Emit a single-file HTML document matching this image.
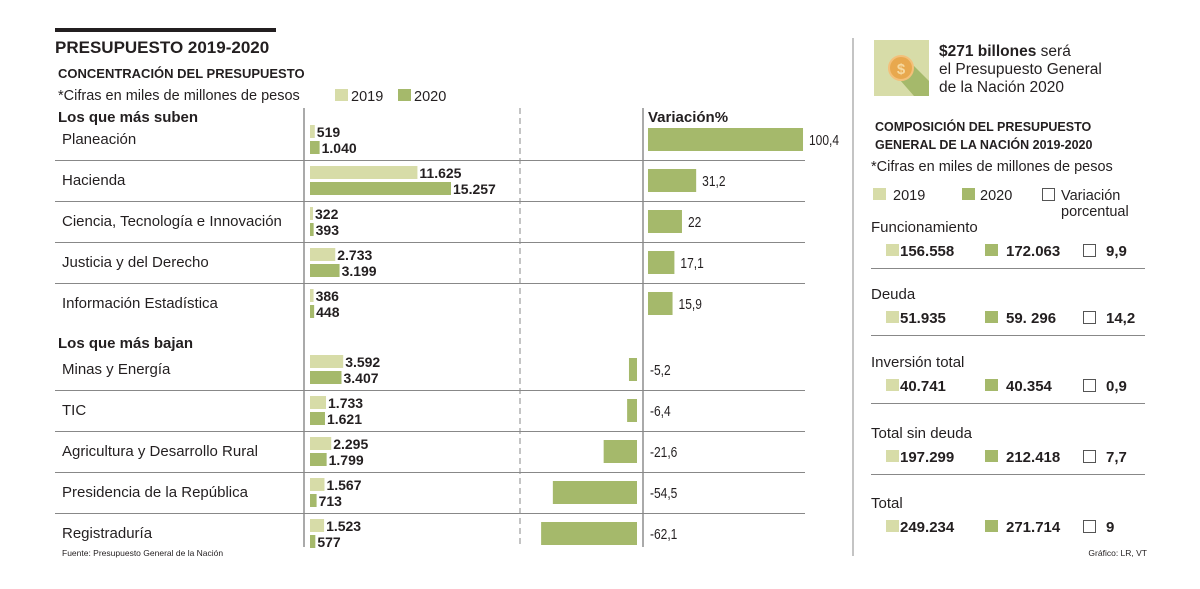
<!DOCTYPE html>
<html><head><meta charset="utf-8"><style>
body{margin:0;background:#fff;}
svg text{font-family:"Liberation Sans",sans-serif;fill:#231f20;}
</style></head><body>
<svg id="c" width="1200" height="584" viewBox="0 0 1200 584" xmlns="http://www.w3.org/2000/svg">
<rect x="55" y="28" width="221" height="4" fill="#231f20"/>
<text x="55" y="53" font-size="17" font-weight="bold">PRESUPUESTO 2019-2020</text>
<text x="58" y="78" font-size="13" font-weight="bold">CONCENTRACIÓN DEL PRESUPUESTO</text>
<text x="58" y="100" font-size="14.5">*Cifras en miles de millones de pesos</text>
<rect x="335" y="89" width="13" height="12" fill="#d7dca8"/>
<text x="351" y="101" font-size="14.5">2019</text>
<rect x="398" y="89" width="13" height="12" fill="#a5b96b"/>
<text x="414" y="101" font-size="14.5">2020</text>
<text x="58" y="122" font-size="15" font-weight="bold">Los que más suben</text>
<text x="58" y="348" font-size="15" font-weight="bold">Los que más bajan</text>
<text x="648" y="122" font-size="15" font-weight="bold">Variación%</text>
<line x1="304" y1="108" x2="304" y2="547" stroke="#555"/>
<line x1="520" y1="108" x2="520" y2="547" stroke="#888" stroke-dasharray="6,4"/>
<line x1="643" y1="108" x2="643" y2="547" stroke="#555"/>
<text x="62" y="556" font-size="8.5">Fuente: Presupuesto General de la Nación</text>
<text x="1147" y="556" font-size="8.5" text-anchor="end">Gráfico: LR, VT</text>
<g id="left"></g>
<line x1="853" y1="38" x2="853" y2="556" stroke="#888"/>
<rect x="874" y="40" width="55" height="56" fill="#d7dca8"/>
<polygon points="900,80 914,66 929,81 929,96 914,96" fill="#a5b96b"/>
<circle cx="901" cy="68" r="12" fill="#e8a84e" stroke="#f3c07a" stroke-width="2"/>
<text x="901" y="74" font-size="15" text-anchor="middle" font-weight="bold" style="fill:#f6d9a0">$</text>
<text x="939" y="56" font-size="15.5"><tspan font-weight="bold">$271 billones</tspan> será</text>
<text x="939" y="74" font-size="15.5">el Presupuesto General</text>
<text x="939" y="92" font-size="15.5">de la Nación 2020</text>
<text x="875" y="131" font-size="12.5" font-weight="bold">COMPOSICIÓN DEL PRESUPUESTO</text>
<text x="875" y="149" font-size="12.5" font-weight="bold">GENERAL DE LA NACIÓN 2019-2020</text>
<text x="871" y="171" font-size="14.5">*Cifras en miles de millones de pesos</text>
<rect x="873" y="188" width="13" height="12" fill="#d7dca8"/>
<text x="893" y="200" font-size="14.5">2019</text>
<rect x="962" y="188" width="13" height="12" fill="#a5b96b"/>
<text x="980" y="200" font-size="14.5">2020</text>
<rect x="1042.5" y="188.5" width="12" height="12" fill="none" stroke="#555"/>
<text x="1061" y="200" font-size="14.5">Variación</text>
<text x="1061" y="216" font-size="14.5">porcentual</text>
<g id="right"></g>
</svg>
<script>
const categories=["Planeación","Hacienda","Ciencia, Tecnología e Innovación","Justicia y del Derecho","Información Estadística","Minas y Energía","TIC","Agricultura y Desarrollo Rural","Presidencia de la República","Registraduría"];
const values2019=[519,11625,322,2733,386,3592,1733,2295,1567,1523];
const values2020=[1040,15257,393,3199,448,3407,1621,1799,713,577];
const labels2019=["519","11.625","322","2.733","386","3.592","1.733","2.295","1.567","1.523"];
const labels2020=["1.040","15.257","393","3.199","448","3.407","1.621","1.799","713","577"];
const variation=[100.4,31.2,22,17.1,15.9,-5.2,-6.4,-21.6,-54.5,-62.1];
const variationLabels=["100,4","31,2","22","17,1","15,9","-5,2","-6,4","-21,6","-54,5","-62,1"];
const compCategories=["Funcionamiento","Deuda","Inversión total","Total sin deuda","Total"];
const comp2019=["156.558","51.935","40.741","197.299","249.234"];
const comp2020=["172.063","59. 296","40.354","212.418","271.714"];
const compVar=["9,9","14,2","0,9","7,7","9"];

const NS="http://www.w3.org/2000/svg";
function mk(p,tag,a,txt){const e=document.createElementNS(NS,tag);for(const k in a)e.setAttribute(k,a[k]);if(txt!=null)e.textContent=txt;p.appendChild(e);return e;}
const xVal=v=>310+v*141/15257;
const varPos=v=>v>=0?648+v*1.544:637+v*1.544;
const rowTop=i=>i<5?120+i*41:350+(i-5)*41;
const L=document.getElementById('left');
categories.forEach((c,i)=>{
  const t=rowTop(i);
  const lbl=mk(L,'text',{x:62,y:t+24,'font-size':15},c);
  
  
  if(i!==0&&i!==5){const ln=mk(L,'line',{x1:55,y1:t-0.5,x2:805,y2:t-0.5,stroke:'#888'});
    
    }
  const w1=Math.max(xVal(values2019[i])-310,3),w2=Math.max(xVal(values2020[i])-310,3);
  const b1=mk(L,'rect',{x:310,y:t+5,width:w1,height:13,fill:'#d7dca8'});
  
  
  const b2=mk(L,'rect',{x:310,y:t+21,width:w2,height:13,fill:'#a5b96b'});
  
  
  const l1=mk(L,'text',{x:310+w1+2,y:t+17,'font-size':14,'font-weight':'bold'},labels2019[i]);
  
  
  const l2=mk(L,'text',{x:310+w2+2,y:t+33,'font-size':14,'font-weight':'bold'},labels2020[i]);
  
  
  const v=variation[i],x0=v>=0?648:637,x1=varPos(v);
  const vb=mk(L,'rect',{x:Math.min(x0,x1),y:t+8,width:Math.abs(x1-x0),height:23,fill:'#a5b96b'});
  
  
  const vx=v>=0?x1+6:650;
  const vl=mk(L,'text',{x:vx,y:t+25,'font-size':15,transform:`translate(${vx},0) scale(0.8,1) translate(${-vx},0)`},variationLabels[i]);
  
  
});
const R=document.getElementById('right');
const gTop=[213,280,348,419,489];
compCategories.forEach((c,i)=>{
  const t=gTop[i];
  const lbl=mk(R,'text',{x:871,y:t+19,'font-size':15},c);
  
  
  const s1=mk(R,'rect',{x:886,y:t+31,width:13,height:12,fill:'#d7dca8'});
  
  
  const v1=mk(R,'text',{x:900,y:t+43,'font-size':15,'font-weight':'bold'},comp2019[i]);
  
  
  const s2=mk(R,'rect',{x:985,y:t+31,width:13,height:12,fill:'#a5b96b'});
  
  
  const v2=mk(R,'text',{x:1006,y:t+43,'font-size':15,'font-weight':'bold'},comp2020[i]);
  
  
  const s3=mk(R,'rect',{x:1083.5,y:t+31.5,width:12,height:12,fill:'none',stroke:'#555'});
  
  
  const v3=mk(R,'text',{x:1106,y:t+43,'font-size':15,'font-weight':'bold'},compVar[i]);
  
  
  if(i<4){const ln=mk(R,'line',{x1:871,y1:t+55.5,x2:1145,y2:t+55.5,stroke:'#888'});
    
    }
});
</script>
</body></html>
